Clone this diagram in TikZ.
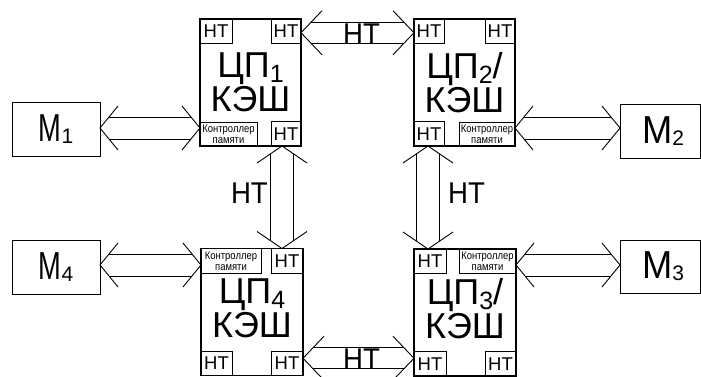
\documentclass[tikz,border=0pt]{standalone}
\usepackage{fontspec}
\usepackage{graphicx}
\setmainfont{Liberation Sans}
\newfontfamily\ctrlfont[FakeStretch=0.86]{Liberation Sans}
\newfontfamily\busfont[FakeStretch=0.92]{Liberation Sans}
\usetikzlibrary{calc}

% Open double-line arrow between two points:
% #1 start, #2 end, #3 head length, #4 head half-width,
% #5 shaft half-width, #6 distance from tip where the shaft starts
\newcommand\openarrow[6]{%
  \draw[arrline] ($(#1)!#3!(#2)!#4!90:(#2)$) -- (#1) -- ($(#1)!#3!(#2)!#4!-90:(#2)$);
  \draw[arrline] ($(#2)!#3!(#1)!#4!90:(#1)$) -- (#2) -- ($(#2)!#3!(#1)!#4!-90:(#1)$);
  \draw[arrline] ($(#1)!#6!(#2)!#5!90:(#2)$) -- ($(#2)!#6!(#1)!#5!-90:(#1)$);
  \draw[arrline] ($(#1)!#6!(#2)!#5!-90:(#2)$) -- ($(#2)!#6!(#1)!#5!90:(#1)$);
}
% Memory label: letter with horizontal scale #1 and index #2
\newcommand\memtext[2]{\fontsize{39}{39}\selectfont\scalebox{#1}[1]{М}{\fontsize{21}{21}\selectfont\raisebox{-2pt}{#2}}}
\newcommand\cpuidx[1]{{\fontsize{25}{25}\selectfont\raisebox{-5pt}{#1}}}

\begin{document}
\begin{tikzpicture}[x=1pt,y=1pt,
  cpubox/.style={draw, line width=1.4pt, minimum width=101pt, minimum height=127pt, inner sep=0pt, outer sep=0pt},
  port/.style={draw, line width=0.9pt, minimum width=31pt, minimum height=24.5pt, inner sep=0pt, outer sep=0pt,
    font=\fontsize{18.5}{18.5}\selectfont},
  ctrl/.style={draw, line width=0.9pt, minimum width=57pt, minimum height=24pt, inner sep=0pt, outer sep=0pt,
    align=center, font=\ctrlfont\fontsize{11}{11}\selectfont},
  membox/.style={draw, line width=1pt, minimum height=54pt, inner sep=0pt, outer sep=0pt},
  cputext/.style={align=center, font=\fontsize{36}{34}\selectfont, inner sep=0pt},
  arrline/.style={line width=0.9pt},
  buslabel/.style={font=\busfont\fontsize{30}{30}\selectfont, inner sep=0pt}
]
\useasboundingbox (0,0) rectangle (701,376);

% processor boxes
\node[cpubox] (cpu1) at (250.5,293.5) {};
\node[cpubox] (cpu2) at (464.5,293.5) {};
\node[cpubox, minimum width=102pt] (cpu4) at (252,64) {};
\node[cpubox, minimum width=102pt] (cpu3) at (465,63.5) {};

\node[cputext] (t1) at (cpu1.center) {ЦП\cpuidx{1}\\КЭШ};
\node[cputext] (t2) at (cpu2.center) {ЦП\cpuidx{2}/\\КЭШ};
\node[cputext] (t4) at ([yshift=4pt]cpu4.center) {ЦП\cpuidx{4}\\КЭШ};
\node[cputext] (t3) at ([yshift=4pt]cpu3.center) {ЦП\cpuidx{3}/\\КЭШ};

% ports of CPU 1
\node[port, anchor=north west, minimum width=32pt] (c1tl) at (cpu1.north west) {НТ};
\node[port, anchor=north east, minimum width=30pt] (c1tr) at (cpu1.north east) {НТ};
\node[ctrl, anchor=south west] (c1bl) at (cpu1.south west) {Контроллер\\памяти};
\node[port, anchor=south east, minimum width=30pt] (c1br) at (cpu1.south east) {НТ};
% ports of CPU 2
\node[port, anchor=north west, minimum width=30pt] (c2tl) at (cpu2.north west) {НТ};
\node[port, anchor=north east, minimum width=30pt] (c2tr) at (cpu2.north east) {НТ};
\node[port, anchor=south west, minimum width=30pt] (c2bl) at (cpu2.south west) {НТ};
\node[ctrl, anchor=south east, minimum width=56pt] (c2br) at (cpu2.south east) {Контроллер\\памяти};
% ports of CPU 4
\node[ctrl, anchor=north west, minimum width=60pt, minimum height=25pt] (c4tl) at (cpu4.north west) {Контроллер\\памяти};
\node[port, anchor=north east, minimum width=32pt] (c4tr) at (cpu4.north east) {НТ};
\node[port, anchor=south west] (c4bl) at (cpu4.south west) {НТ};
\node[port, anchor=south east, minimum width=32pt] (c4br) at (cpu4.south east) {НТ};
% ports of CPU 3
\node[port, anchor=north west, minimum width=32pt] (c3tl) at (cpu3.north west) {НТ};
\node[ctrl, anchor=north east, minimum height=24.5pt] (c3tr) at (cpu3.north east) {Контроллер\\памяти};
\node[port, anchor=south west, minimum width=32pt] (c3bl) at (cpu3.south west) {НТ};
\node[port, anchor=south east] (c3br) at (cpu3.south east) {НТ};

% memory modules
\node[membox, minimum width=88pt] (m1) at (56,247) {\memtext{0.7}{1}};
\node[membox, minimum width=80pt] (m2) at (660,245) {\hspace{6pt}\memtext{0.93}{2}};
\node[membox, minimum width=88pt] (m4) at (56,109) {\memtext{0.7}{4}};
\node[membox, minimum width=80pt, minimum height=53pt] (m3) at (660,109.5) {\hspace{6pt}\memtext{0.93}{3}};

% link end points
\coordinate (ht1) at ([yshift=-1.5pt]c1tr.east);
\coordinate (ht2) at (c2tl.west |- ht1);
\coordinate (hb1) at ([yshift=5pt]c4br.east);
\coordinate (hb2) at (c3bl.west |- hb1);
\coordinate (vl1) at ([xshift=-4pt]c1br.south);
\coordinate (vl2) at (vl1 |- c4tr.north);
\coordinate (vr1) at ([xshift=-1pt]c2bl.south);
\coordinate (vr2) at (vr1 |- c3tl.north);
\coordinate (ml1) at ([yshift=1pt]m1.east);
\coordinate (ml2) at (c1bl.west |- ml1);
\coordinate (mr2) at ([yshift=3pt]m2.west);
\coordinate (mr1) at (c2br.east |- mr2);
\coordinate (md1) at ([yshift=2pt]m4.east);
\coordinate (md2) at (c4tl.west |- md1);
\coordinate (mu2) at ([yshift=1.5pt]m3.west);
\coordinate (mu1) at (c3tr.east |- mu2);

% links between processors
\openarrow{ht1}{ht2}{21pt}{22pt}{10.5pt}{10pt}
\openarrow{hb1}{hb2}{21pt}{22pt}{10.5pt}{10pt}
\openarrow{vl1}{vl2}{17pt}{25pt}{11.5pt}{7.8pt}
\openarrow{vr1}{vr2}{17pt}{25pt}{11.5pt}{7.8pt}
% links to memory
\openarrow{ml1}{ml2}{18pt}{22pt}{11pt}{9pt}
\openarrow{mr1}{mr2}{18pt}{22pt}{11pt}{9pt}
\openarrow{md1}{md2}{18pt}{22pt}{11pt}{9pt}
\openarrow{mu1}{mu2}{18pt}{22pt}{11pt}{9pt}

% link labels
\node[buslabel] (lt) at ([xshift=4pt,yshift=-1pt]$(ht1)!0.5!(ht2)$) {НТ};
\node[buslabel] (lb) at ([xshift=3pt,yshift=-1pt]$(hb1)!0.5!(hb2)$) {НТ};
\node[buslabel, anchor=east] (ll) at ([xshift=-14pt,yshift=4pt]$(vl1)!0.5!(vl2)$) {НТ};
\node[buslabel, anchor=west] (lr) at ([xshift=20pt,yshift=4pt]$(vr1)!0.5!(vr2)$) {НТ};
\end{tikzpicture}
\end{document}
